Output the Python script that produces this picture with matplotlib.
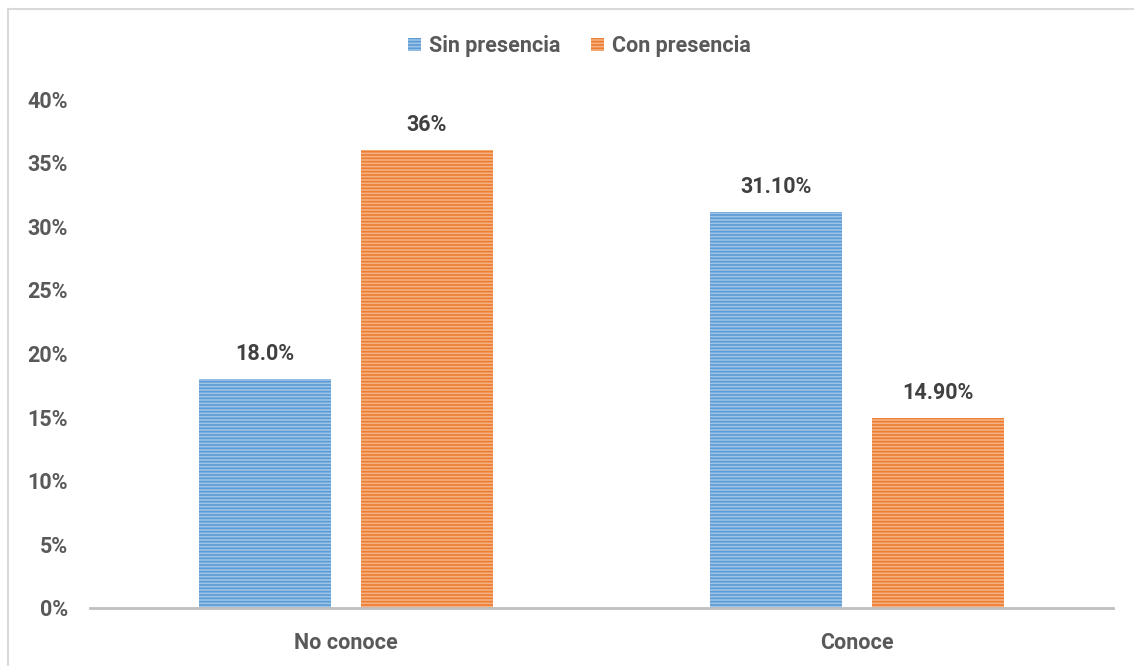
import matplotlib.pyplot as plt
import matplotlib.lines as mlines
import numpy as np

categories = ["No conoce", "Conoce"]
sin_presencia = [18.0, 31.1]
con_presencia = [36.0, 14.9]
sin_labels = ["18.0%", "31.10%"]
con_labels = ["36%", "14.90%"]
yticks = [0, 5, 10, 15, 20, 25, 30, 35, 40]

plt.rcParams['font.family'] = ['Roboto', 'DejaVu Sans']
plt.rcParams['hatch.linewidth'] = 1.2

text_color = "#595959"
fs = 15.5

fig = plt.figure(figsize=(11.34, 6.66), dpi=100)
ax = fig.add_axes([90 / 1134, 58 / 666, 1023 / 1134, 509 / 666])

x = np.arange(len(categories))
w = 0.258
off = 0.158

b1 = ax.bar(x - off, sin_presencia, w, color="#9DC3E6", hatch="-----",
            edgecolor="#5B9BD5", linewidth=0, label="Sin presencia")
for p in b1:
    p._hatch_color = (0.357, 0.608, 0.835, 1.0)
b2 = ax.bar(x + off, con_presencia, w, color="#F4B183", hatch="-----",
            edgecolor="#ED7D31", linewidth=0, label="Con presencia")
for p in b2:
    p._hatch_color = (0.929, 0.490, 0.192, 1.0)

for xi, v, lab in zip(x - off, sin_presencia, sin_labels):
    ax.text(xi, v + 1.1, lab, ha="center", va="bottom", fontsize=fs,
            fontweight="bold", color="#404040")
for xi, v, lab in zip(x + off, con_presencia, con_labels):
    ax.text(xi, v + 1.1, lab, ha="center", va="bottom", fontsize=fs,
            fontweight="bold", color="#404040")

ax.set_xlim(-0.5, 1.5)
ax.set_ylim(0, 40)
ax.set_yticks(yticks)
ax.set_yticklabels([f"{t}%" for t in yticks])
ax.set_xticks(x)
ax.set_xticklabels(categories)
ax.tick_params(axis="both", length=0, labelsize=fs, labelcolor=text_color)
ax.tick_params(axis="y", pad=16)
ax.tick_params(axis="x", pad=17)
for lab in ax.get_xticklabels() + ax.get_yticklabels():
    lab.set_fontweight("bold")

for s in ["top", "right", "left"]:
    ax.spines[s].set_visible(False)
ax.spines["bottom"].set_color("#BFBFBF")
ax.spines["bottom"].set_linewidth(2)

leg = fig.legend(handles=[b1, b2], loc="center", bbox_to_anchor=(0.511, 1 - 46 / 666),
                 ncol=2, frameon=False, fontsize=fs, handlelength=0.6,
                 handleheight=0.6, columnspacing=1.4, handletextpad=0.4)
for t in leg.get_texts():
    t.set_color(text_color)
    t.set_fontweight("bold")

# chart frame (left and top edges)
fig.add_artist(mlines.Line2D([8 / 1134, 8 / 1134], [0, 1 - 9 / 666],
                             transform=fig.transFigure, color="#D9D9D9", lw=1.5))
fig.add_artist(mlines.Line2D([8 / 1134, 1], [1 - 9 / 666, 1 - 9 / 666],
                             transform=fig.transFigure, color="#D9D9D9", lw=1.5))

fig.savefig("out.png", dpi=100)
